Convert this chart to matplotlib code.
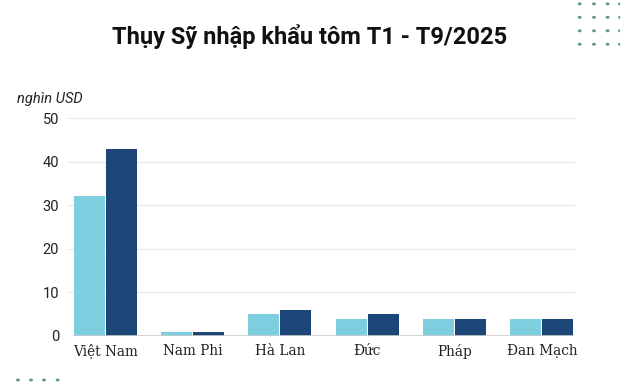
import matplotlib
matplotlib.use("Agg")
import matplotlib.pyplot as plt
import numpy as np

categories = ["Việt Nam", "Nam Phi", "Hà Lan", "Đức", "Pháp", "Đan Mạch"]
series_a = [32, 1, 5, 4, 4, 4]
series_b = [43, 1, 6, 5, 4, 4]
yticks = [0, 10, 20, 30, 40, 50]

fig = plt.figure(figsize=(6.2, 3.85), dpi=100)
ax = fig.add_axes([0.1177, 0.1273, 0.8083, 0.5662])

x = np.arange(len(categories))
w = 0.355
ax.bar(x - w/2 - 0.005, series_a, width=w, color="#7dcfe0", zorder=3)
ax.bar(x + w/2 + 0.005, series_b, width=w, color="#1b4677", zorder=3)

ax.set_xlim(-0.37, 5.37)
ax.set_ylim(0, 50)
ax.set_yticks(yticks)
ax.set_yticklabels([str(v) for v in yticks], fontsize=10.5, family="Roboto", color="#222222")
ax.set_xticks(x)
ax.set_xticklabels(categories, fontsize=9.8, family="DejaVu Serif", color="#222222")
ax.tick_params(axis="both", length=0, pad=6)
ax.tick_params(axis="y", pad=10)
for v in yticks[1:]:
    ax.axhline(v, color="#e8e8e8", lw=0.8, zorder=1, xmin=-0.01, clip_on=False)
ax.axhline(0, color="#cccccc", lw=1.2, zorder=4)
for s in ax.spines.values():
    s.set_visible(False)

fig.text(0.5, 0.905, "Thụy Sỹ nhập khẩu tôm T1 - T9/2025", ha="center", va="center",
         fontsize=17, fontweight="bold", family=["Roboto", "DejaVu Sans"], color="#111111")
fig.text(0.027, 0.742, "nghìn USD", ha="left", va="center", fontsize=10.5,
         style="italic", family=["Roboto"], color="#222222")

# decorative dots
dot_c = "#5f9a92"
for xx in [0.935, 0.958, 0.980, 1.0]:
    for yy in [0.99, 0.955, 0.92, 0.885]:
        fig.patches.append(plt.Circle((xx, yy), 0.002, transform=fig.transFigure, color=dot_c))
for xx in [0.029, 0.050, 0.071, 0.093]:
    fig.patches.append(plt.Circle((xx, 0.013), 0.002, transform=fig.transFigure, color=dot_c))

fig.savefig("out.png", dpi=100)
